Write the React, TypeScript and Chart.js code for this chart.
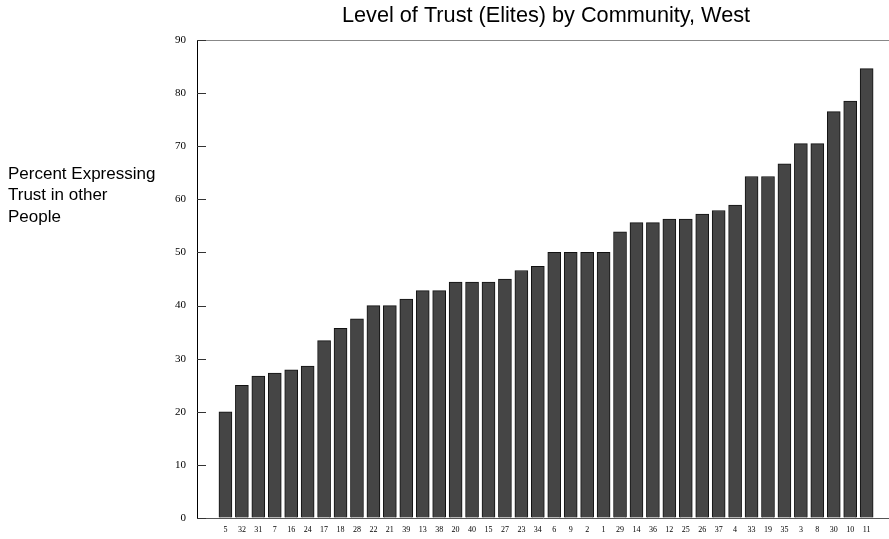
import React, { useEffect, useRef } from "react";
import { Chart, registerables } from "chart.js";

Chart.register(...registerables);

const communities: string[] = [
  "5", "32", "31", "7", "16", "24", "17", "18", "28", "22",
  "21", "39", "13", "38", "20", "40", "15", "27", "23", "34",
  "6", "9", "2", "1", "29", "14", "36", "12", "25", "26",
  "37", "4", "33", "19", "35", "3", "8", "30", "10", "11",
];

const trustPercent: number[] = [
  20.0, 25.0, 26.7, 27.3, 27.9, 28.6, 33.4, 35.7, 37.5, 40.0,
  40.0, 41.2, 42.8, 42.8, 44.4, 44.4, 44.4, 45.0, 46.6, 47.4,
  50.0, 50.0, 50.0, 50.0, 53.9, 55.6, 55.6, 56.3, 56.3, 57.2,
  57.9, 58.9, 64.3, 64.3, 66.7, 70.5, 70.5, 76.5, 78.5, 84.6,
];

const yTicks: number[] = [0, 10, 20, 30, 40, 50, 60, 70, 80, 90];

const chartTitle = "Level of Trust (Elites) by Community, West";
const yLabelLines: string[] = ["Percent Expressing", "Trust in other", "People"];

const decorPlugin = {
  id: "decor",
  afterDraw(chart: any) {
    const ctx = chart.ctx;
    const area = chart.chartArea;
    const y = chart.scales.y;
    ctx.save();
    // top border
    ctx.strokeStyle = "#888";
    ctx.lineWidth = 1;
    ctx.beginPath();
    ctx.moveTo(area.left, area.top + 0.5);
    ctx.lineTo(chart.width, area.top + 0.5);
    ctx.stroke();
    // inward tick marks
    ctx.strokeStyle = "#333";
    yTicks.forEach((t) => {
      const py = Math.round(y.getPixelForValue(t)) + 0.5;
      ctx.beginPath();
      ctx.moveTo(area.left, py);
      ctx.lineTo(area.left + 9, py);
      ctx.stroke();
    });
    // title
    ctx.fillStyle = "#000";
    ctx.font = "21.7px 'Liberation Sans', Arial, sans-serif";
    ctx.textAlign = "center";
    ctx.textBaseline = "middle";
    ctx.fillText(chartTitle, 546, 16);
    // left label
    ctx.font = "17px 'Liberation Sans', Arial, sans-serif";
    ctx.textAlign = "left";
    yLabelLines.forEach((line, i) => {
      ctx.fillText(line, 8, 174 + i * 21.5);
    });
    ctx.restore();
  },
};

export default function App() {
  const canvasRef = useRef<HTMLCanvasElement | null>(null);

  useEffect(() => {
    if (!canvasRef.current) return;
    const chart = new Chart(canvasRef.current, {
      type: "bar",
      data: {
        datasets: [
          {
            data: trustPercent.map((v, i) => ({ x: i, y: v })),
            backgroundColor: "#454545",
            borderColor: "#111",
            borderWidth: 1,
            barThickness: 13,
          },
        ],
      },
      options: {
        responsive: false,
        animation: false,
        layout: { padding: { top: 40, left: 0, right: 0, bottom: 0 } },
        plugins: {
          legend: { display: false },
          title: { display: false },
          tooltip: { enabled: false },
        },
        scales: {
          x: {
            type: "linear",
            offset: false,
            bounds: "data",
            min: -1.73,
            max: 40.36,
            grid: { display: false, drawTicks: false, offset: false },
            border: { display: true, color: "#555", width: 1 },
            afterBuildTicks: (scale: any) => {
              scale.ticks = communities.map((_, i) => ({ value: i }));
            },
            afterFit: (scale: any) => {
              scale.height = 21;
            },
            ticks: {
              autoSkip: false,
              maxRotation: 0,
              minRotation: 0,
              padding: 7,
              color: "#000",
              font: { family: "'Liberation Serif', 'Times New Roman', serif", size: 8 },
              callback: (v: any) => communities[Number(v)] ?? "",
            },
          },
          y: {
            min: 0,
            max: 90,
            grid: { drawOnChartArea: false, drawTicks: false },
            border: { display: true, color: "#000", width: 1 },
            afterBuildTicks: (scale: any) => {
              scale.ticks = yTicks.map((v) => ({ value: v }));
            },
            afterFit: (scale: any) => {
              scale.width = 197;
            },
            ticks: {
              padding: 11,
              color: "#000",
              font: { family: "'Liberation Serif', 'Times New Roman', serif", size: 11 },
            },
          },
        },
      },
      plugins: [decorPlugin],
    });
    return () => chart.destroy();
  }, []);

  return (
    <div style={{ position: "absolute", left: 0, top: 0, width: 889, height: 539, background: "#fff" }}>
      <canvas ref={canvasRef} width={889} height={539} style={{ width: 889, height: 539 }} />
    </div>
  );
}
